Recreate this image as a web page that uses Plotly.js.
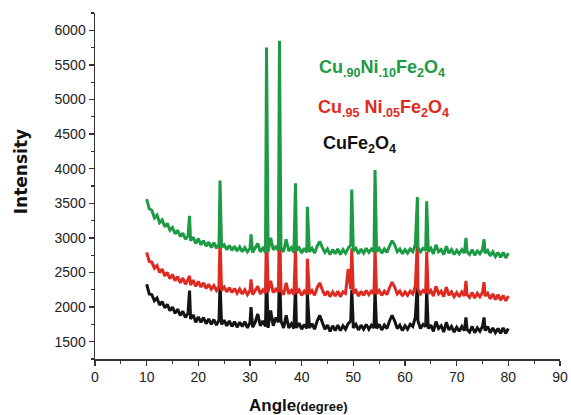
<!DOCTYPE html>
<html><head><meta charset="utf-8">
<script src="https://cdn.plot.ly/plotly-3.0.1.min.js"></script>
<style>html,body{margin:0;padding:0;background:#fff}#chart{width:571px;height:415px}</style>
</head><body><div id="chart"></div>
<script>
const angle = [10,10.5,11,11.5,12,12.5,13,13.5,14,14.5,15,15.5,16,16.5,17,17.5,18,
18.3,
18.5,19,19.5,20,20.5,21,21.5,22,22.5,23,23.5,24,
24.2,
24.5,25,25.5,26,26.5,27,27.5,28,28.5,29,29.5,30,
30.2,
30.5,31,31.5,32,32.5,33,
33.2,
33.5,34,34.5,35,35.5,
35.7,
36,36.5,37,37.5,38,38.5,
38.8,
39,39.5,40,40.5,41,
41.1,
41.5,42,42.5,43,43.5,44,44.5,45,45.5,46,46.5,47,47.5,48,48.5,49,49.5,
49.7,
50,50.5,51,51.5,52,52.5,53,53.5,54,
54.2,
54.5,55,55.5,56,56.5,57,57.5,58,58.5,59,59.5,60,60.5,61,61.5,62,
62.4,
62.5,63,63.5,64,
64.2,
64.5,65,65.5,66,66.5,67,67.5,68,68.5,69,69.5,70,70.5,71,71.5,
71.8,
72,72.5,73,73.5,74,74.5,75,
75.3,
75.5,76,76.5,77,77.5,78,78.5,79,79.5,80];

const cuNi10 = [3560,3420,3400,3290,3330,3220,3260,3160,3210,3110,3150,3060,3110,3020,3070,2980,3030,
3320,
2960,3010,2920,2990,2900,2960,2880,2940,2860,2930,2850,2910,
3830,
2860,2900,2830,2890,2820,2880,2810,2870,2800,2860,2800,2850,
3050,
2790,2860,2920,2800,2850,2790,
5750,
2800,3000,2830,2870,2820,
5850,
2850,2800,2980,2810,2860,2790,
3790,
2820,2860,2780,2850,2790,
3450,
2800,2850,2780,2880,2950,2860,2790,2840,2760,2830,2770,2840,2760,2830,2780,2850,2900,
3700,
2810,2850,2770,2840,2780,2850,2790,2840,2800,
3980,
2800,2850,2780,2840,2790,2880,2960,2900,2800,2840,2770,2830,2780,2840,2800,2900,
3590,
2860,2800,2850,2820,
3530,
2800,2850,2770,2900,2800,2830,2760,2880,2780,2830,2760,2820,2770,2830,2780,
3000,
2800,2760,2830,2750,2810,2770,2830,
2980,
2780,2820,2740,2800,2730,2790,2720,2790,2710,2780];

const cuNi05 = [2790,2660,2650,2560,2600,2500,2550,2450,2500,2410,2470,2380,2440,2350,2420,2330,2400,
2450,
2320,2390,2300,2370,2290,2350,2270,2330,2260,2310,2240,2300,
3000,
2240,2290,2220,2280,2210,2270,2200,2260,2190,2250,2180,2240,
2400,
2180,2240,2300,2190,2250,2200,
3200,
2220,2380,2210,2260,2220,
3350,
2240,2180,2350,2190,2240,2180,
2850,
2200,2250,2170,2230,2180,
2700,
2190,2240,2170,2280,2350,2250,2170,2230,2150,2220,2160,2230,2150,2220,2200,2550,2260,
2850,
2200,2240,2160,2230,2170,2240,2180,2230,2190,
2850,
2190,2240,2170,2230,2180,2280,2360,2290,2190,2230,2160,2220,2170,2230,2190,2300,
2960,
2260,2190,2240,2210,
2800,
2190,2240,2160,2300,2190,2230,2150,2290,2170,2220,2150,2210,2150,2220,2160,
2380,
2180,2140,2210,2130,2200,2150,2210,
2360,
2160,2200,2120,2190,2110,2180,2100,2170,2090,2160];

const cuFe = [2330,2190,2180,2090,2130,2030,2080,1990,2040,1950,2000,1910,1970,1880,1940,1850,1910,
2240,
1830,1890,1780,1860,1780,1850,1760,1830,1750,1820,1740,1810,
2350,
1750,1810,1730,1800,1720,1790,1710,1780,1720,1790,1700,1780,
2000,
1710,1780,1900,1730,1800,1720,
2500,
1700,1950,1730,1850,1780,
2600,
1800,1700,1880,1700,1760,1690,
2300,
1700,1770,1680,1750,1690,
2200,
1700,1760,1680,1800,1880,1780,1680,1740,1650,1730,1660,1740,1660,1730,1680,1760,1800,
2250,
1700,1750,1670,1740,1680,1750,1680,1740,1700,
2250,
1690,1750,1670,1740,1690,1800,1880,1800,1690,1740,1660,1730,1680,1750,1720,1850,
2350,
1800,1690,1750,1720,
2250,
1690,1740,1650,1790,1690,1730,1640,1780,1670,1720,1640,1710,1650,1720,1660,
1850,
1680,1640,1720,1630,1700,1650,1720,
1850,
1660,1720,1630,1700,1630,1690,1620,1700,1620,1690];

const seriesNames = ['CuFe<sub>2</sub>O<sub>4</sub>','Cu<sub>.95</sub> Ni<sub>.05</sub>Fe<sub>2</sub>O<sub>4</sub>','Cu<sub>.90</sub>Ni<sub>.10</sub>Fe<sub>2</sub>O<sub>4</sub>'];
const colors = ['#141414','#df2a22','#1c9a44'];
const values = [cuFe, cuNi05, cuNi10];

const traces = values.map((v,i)=>({
  x: angle, y: v, type:'scatter', mode:'lines', name: seriesNames[i],
  line:{color:colors[i], width:3}, showlegend:false
}));

const axisFont = {family:'Liberation Sans, Arial, sans-serif', size:14, color:'#222'};
const layout = {
  width:571, height:415,
  margin:{l:95, r:11, t:13, b:56, pad:0},
  paper_bgcolor:'#fff', plot_bgcolor:'#fff',
  xaxis:{range:[0,90], dtick:10, tick0:0, ticks:'outside', ticklen:5, tickwidth:1.5, tickcolor:'#333',
    showline:true, linecolor:'#333', linewidth:1.5, showgrid:false, zeroline:false,
    minor:{dtick:5, ticks:'outside', ticklen:3, tickwidth:1.2, tickcolor:'#333', showgrid:false},
    tickfont:axisFont},
  yaxis:{range:[1250,6250], dtick:500, tick0:1500, ticks:'outside', ticklen:5, tickwidth:1.5, tickcolor:'#333',
    showline:true, linecolor:'#333', linewidth:1.5, showgrid:false, zeroline:false,
    minor:{dtick:250, ticks:'outside', ticklen:3, tickwidth:1.2, tickcolor:'#333', showgrid:false},
    tickfont:axisFont},
  annotations:[
    {text:'<b>'+seriesNames[2]+'</b>', xref:'paper', yref:'paper', x:0.478, y:0.84, xanchor:'left', yanchor:'middle', showarrow:false,
      font:{family:'Liberation Sans, Arial, sans-serif', size:18, color:colors[2]}},
    {text:'<b>'+seriesNames[1]+'</b>', xref:'paper', yref:'paper', x:0.476, y:0.725, xanchor:'left', yanchor:'middle', showarrow:false,
      font:{family:'Liberation Sans, Arial, sans-serif', size:18, color:colors[1]}},
    {text:'<b>'+seriesNames[0]+'</b>', xref:'paper', yref:'paper', x:0.487, y:0.62, xanchor:'left', yanchor:'middle', showarrow:false,
      font:{family:'Liberation Sans, Arial, sans-serif', size:18, color:'#111'}},
    {text:'<b>Angle</b><b><span style="font-size:13px">(degree)</span></b>', xref:'paper', yref:'paper', x:0.327, y:-0.133, xanchor:'left', yanchor:'middle', showarrow:false,
      font:{family:'Liberation Sans, Arial, sans-serif', size:17, color:'#111'}},
    {text:'<b>Intensity</b>', xref:'paper', yref:'paper', x:-0.159, y:0.54, xanchor:'center', yanchor:'middle', textangle:-90, showarrow:false,
      font:{family:'DejaVu Sans, sans-serif', size:17, color:'#111'}}
  ]
};
Plotly.newPlot('chart', traces, layout, {staticPlot:true, displayModeBar:false});
</script>
</body></html>
